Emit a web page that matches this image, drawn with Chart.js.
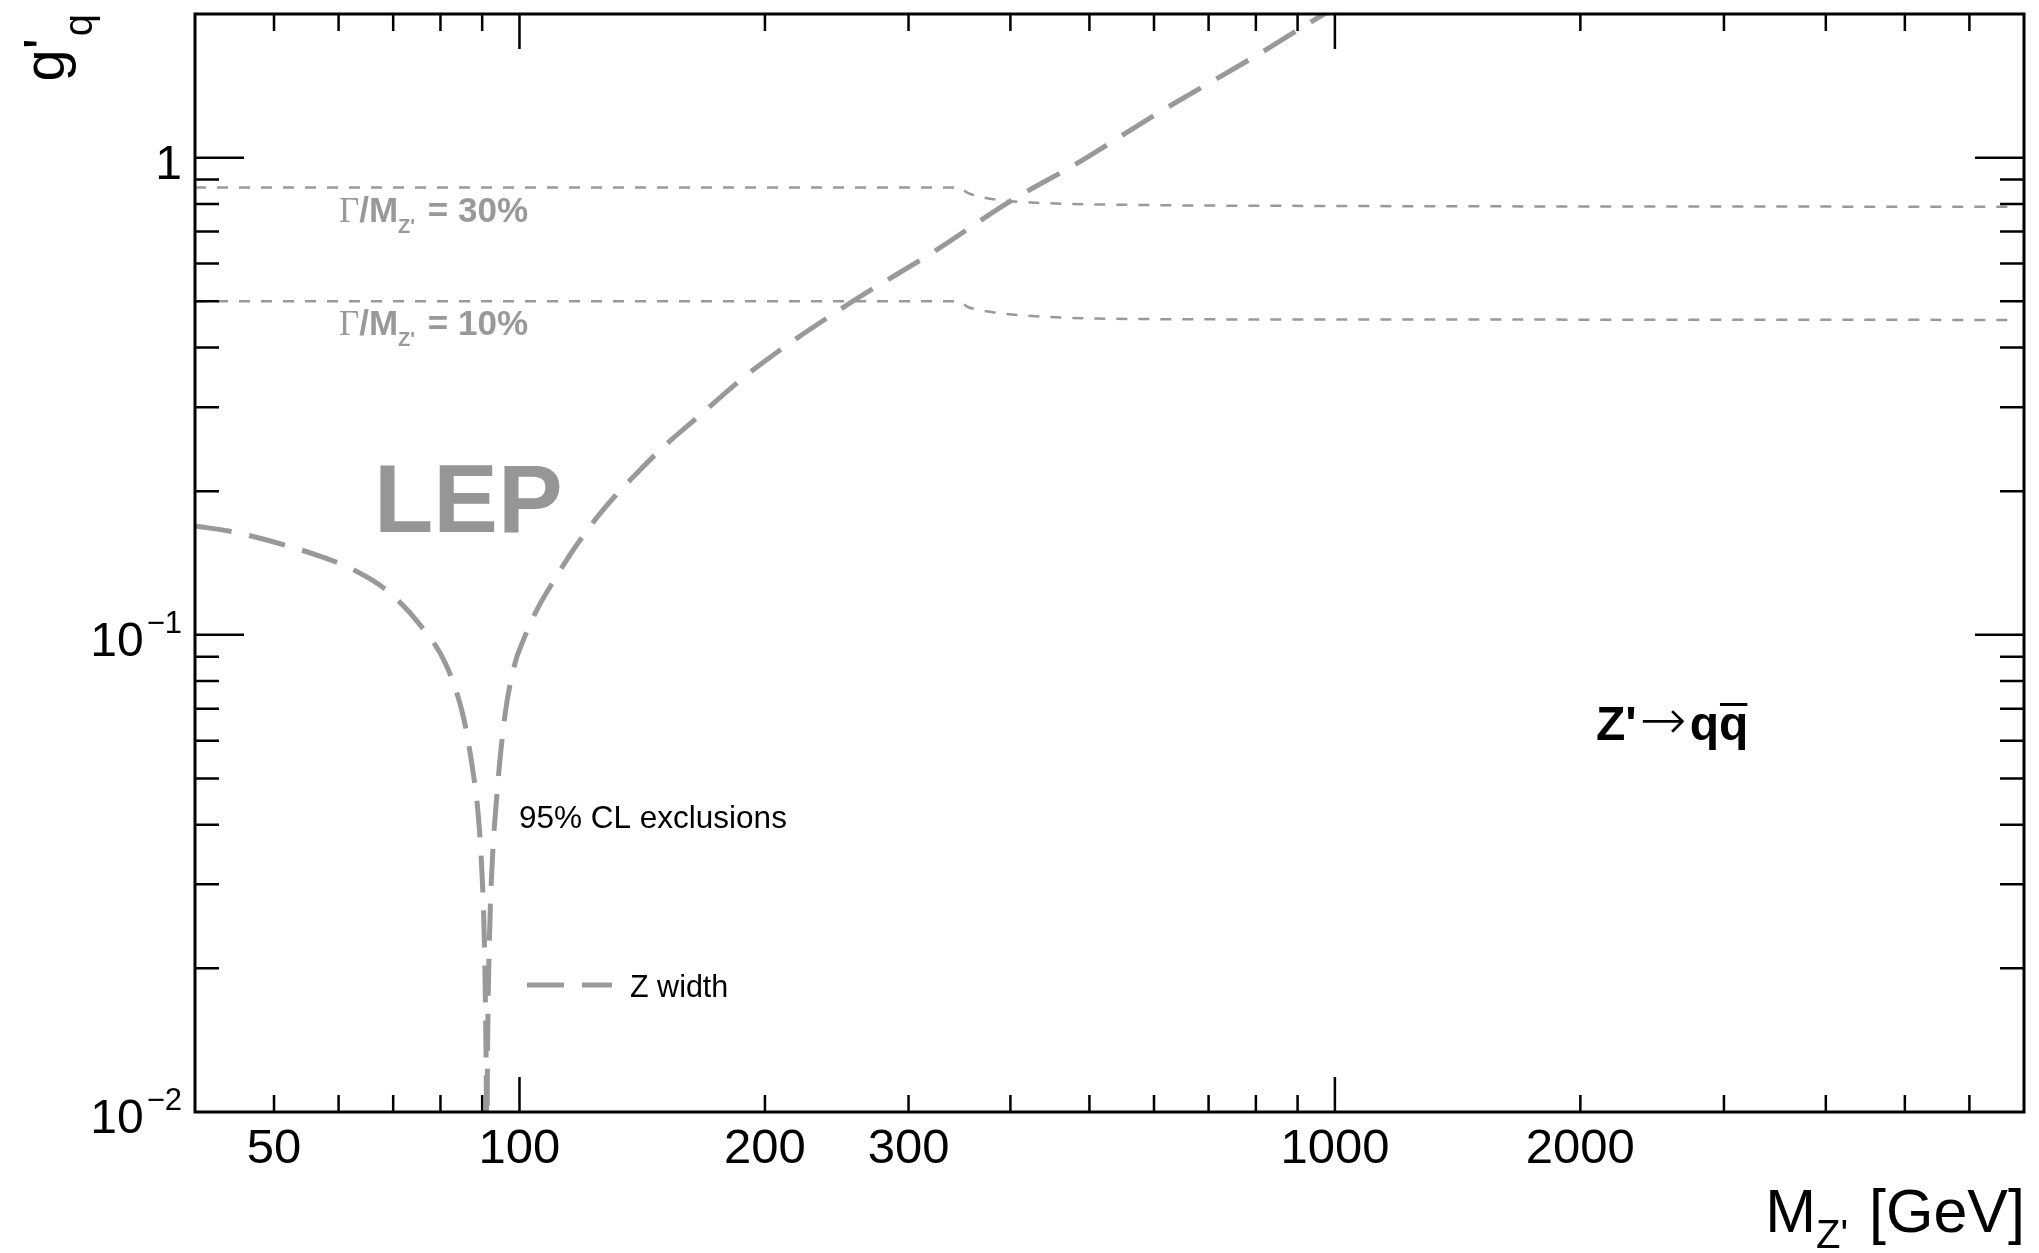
<!DOCTYPE html>
<html>
<head>
<meta charset="utf-8">
<script src="https://cdn.jsdelivr.net/npm/chart.js@4.4.0/dist/chart.umd.min.js"></script>
<style>
  html, body { margin: 0; padding: 0; background: #fff; }
  #wrap { width: 2039px; height: 1253px; }
</style>
</head>
<body>
<div id="wrap"><canvas id="zprime" width="2039" height="1253"></canvas></div>
<script>
// Z width exclusion (LEP), M_Z' in GeV vs g'_q
const zMass = [40, 44, 51, 57, 62.5, 68.7, 75.5, 81.4, 85.4, 87.5, 89.0, 90.0, 90.6, 91.0, 91.19,
               91.4, 91.8, 92.4, 93.8, 96.0, 98.7, 101.1, 105, 109, 113.2, 117, 124.3, 131, 138, 150, 163.5, 193,
               251.6, 324.5, 400, 479, 611, 792, 970, 1100];
const zCoupling = [0.169, 0.165, 0.155, 0.146, 0.137, 0.124, 0.105, 0.086, 0.067, 0.053, 0.042, 0.031, 0.022, 0.013, 0.0085,
                   0.014, 0.022, 0.031, 0.046, 0.068, 0.087, 0.0975, 0.1127, 0.126, 0.140, 0.1526, 0.1757, 0.1954, 0.2146, 0.2473, 0.281, 0.358,
                   0.490, 0.640, 0.811, 0.965, 1.249, 1.618, 2.00, 2.27];

// constant width lines
const widthMass = [40, 346, 354, 365, 388, 440, 566, 1000, 6700];
const width30 = [0.866, 0.866, 0.845, 0.830, 0.815, 0.803, 0.796, 0.792, 0.789];
const width10 = [0.500, 0.500, 0.487, 0.480, 0.472, 0.464, 0.459, 0.458, 0.457];

const xLabelValues = [50, 100, 200, 300, 1000, 2000];
const xMajorTicks = [100, 1000];
const xMinorTicks = [50, 60, 70, 80, 90, 200, 300, 400, 500, 600, 700, 800, 900, 2000, 3000, 4000, 5000, 6000];
const yLabelValues = [1, 0.1, 0.01];
const yLabelExps = ['', '\u22121', '\u22122'];
const yMajorTicks = [0.1, 1];
const yMinorTicks = [0.02, 0.03, 0.04, 0.05, 0.06, 0.07, 0.08, 0.09, 0.2, 0.3, 0.4, 0.5, 0.6, 0.7, 0.8, 0.9];

const GRAY = '#999999';
const FONT = '"Liberation Sans", Arial, sans-serif';

function pts(xs, ys){ return xs.map((x, i) => ({ x, y: ys[i] })); }

// draw a row of text pieces (for sub/superscripts), returns width
function drawParts(ctx, x, y, parts, align){
  ctx.textAlign = 'left';
  ctx.textBaseline = 'alphabetic';
  let total = 0;
  parts.forEach(p => { ctx.font = p.font; p.w = ctx.measureText(p.t).width + (p.gap || 0) + (p.pre || 0); total += p.w; });
  let cx = align === 'right' ? x - total : x;
  parts.forEach(p => {
    ctx.font = p.font;
    ctx.fillStyle = p.color || ctx.fillStyle;
    ctx.fillText(p.t, cx + (p.pre || 0), y + (p.dy || 0));
    if(p.over){
      ctx.fillRect(cx + (p.pre || 0) + 1, y - p.over, ctx.measureText(p.t).width - 2, 3);
    }
    cx += p.w;
  });
  return total;
}

const rootStyle = {
  id: 'rootStyle',
  afterDraw(chart){
    const { ctx, chartArea: a, scales: { x, y } } = chart;
    ctx.save();

    // ticks inside the frame
    ctx.strokeStyle = '#000';
    ctx.lineWidth = 2.5;
    ctx.beginPath();
    xMajorTicks.concat(xMinorTicks).forEach(v => {
      const len = xMajorTicks.includes(v) ? 35 : 17;
      const px = x.getPixelForValue(v);
      ctx.moveTo(px, a.bottom); ctx.lineTo(px, a.bottom - len);
      ctx.moveTo(px, a.top); ctx.lineTo(px, a.top + len);
    });
    yMajorTicks.concat(yMinorTicks).forEach(v => {
      const len = yMajorTicks.includes(v) ? 49 : 24;
      const py = y.getPixelForValue(v);
      ctx.moveTo(a.left, py); ctx.lineTo(a.left + len, py);
      ctx.moveTo(a.right, py); ctx.lineTo(a.right - len, py);
    });
    ctx.stroke();
    ctx.lineWidth = 3;
    ctx.strokeRect(a.left, a.top, a.right - a.left, a.bottom - a.top);

    // y tick labels 1, 10^-1, 10^-2
    ctx.fillStyle = '#000';
    yLabelValues.forEach((v, i) => {
      const py = y.getPixelForValue(v);
      const exp = yLabelExps[i];
      const parts = [{ t: exp ? '10' : '1', font: `48px ${FONT}`, gap: exp ? 3 : 0 }];
      if(exp) parts.push({ t: exp, font: `31px ${FONT}`, dy: -23 });
      drawParts(ctx, a.left - 13, py + 21, parts, 'right');
    });

    // axis titles
    drawParts(ctx, a.right + 1, 1232, [
      { t: 'M', font: `61px ${FONT}` },
      { t: "Z'", font: `40px ${FONT}`, dy: 16, gap: 4 },
      { t: ' [GeV]', font: `61px ${FONT}` }
    ], 'right');

    ctx.save();
    ctx.translate(64, a.top);
    ctx.rotate(-Math.PI / 2);
    drawParts(ctx, 0, 0, [
      { t: 'g', font: `58px ${FONT}` },
      { t: "'", font: `58px ${FONT}`, gap: 2 },
      { t: 'q', font: `40px ${FONT}`, dy: 28 }
    ], 'right');
    ctx.restore();

    // gray annotations
    ctx.fillStyle = GRAY;
    [['30%', 222], ['10%', 335]].forEach(([pct, base]) => {
      drawParts(ctx, 339, base, [
        { t: '\u0393', font: `35px "Liberation Serif", serif` },
        { t: '/M', font: `bold 35px ${FONT}` },
        { t: "Z'", font: `bold 20px ${FONT}`, dy: 11, gap: 3 },
        { t: ' = ' + pct, font: `bold 35px ${FONT}` }
      ]);
    });
    ctx.fillStyle = '#969696';
    ctx.font = `bold 97px ${FONT}`;
    ctx.textAlign = 'left';
    ctx.fillText('LEP', 374, 532);

    // black annotations
    ctx.fillStyle = '#000';
    ctx.font = `31.5px ${FONT}`;
    ctx.fillText('95% CL exclusions', 519, 828);

    drawParts(ctx, 1596, 740, [
      { t: "Z'", font: `bold 48px ${FONT}`, gap: 3 },
      { t: '\u2192', font: `200 56px "DejaVu Sans", sans-serif`, dy: -1, gap: 3 },
      { t: 'q', font: `bold 48px ${FONT}` },
      { t: 'q', font: `bold 48px ${FONT}`, over: 37 }
    ]);

    // legend
    const ds = chart.data.datasets[0];
    ctx.strokeStyle = ds.borderColor;
    ctx.lineWidth = ds.borderWidth;
    ctx.setLineDash(ds.borderDash);
    ctx.beginPath();
    ctx.moveTo(527, 985); ctx.lineTo(612, 985);
    ctx.stroke();
    ctx.setLineDash([]);
    ctx.fillStyle = '#000';
    ctx.font = `30.5px ${FONT}`;
    ctx.fillText(ds.label, 630, 997);

    ctx.restore();
  }
};

Chart.defaults.font.family = FONT;
Chart.defaults.color = '#000';

new Chart(document.getElementById('zprime'), {
  type: 'line',
  data: {
    datasets: [
      {
        label: 'Z width',
        data: pts(zMass, zCoupling),
        borderColor: GRAY,
        borderWidth: 5,
        borderDash: [37, 18],
        pointRadius: 0,
        cubicInterpolationMode: 'monotone',
        clip: 0
      },
      {
        label: '\u0393/M = 30%',
        data: pts(widthMass, width30),
        borderColor: GRAY,
        borderWidth: 2.5,
        borderDash: [11, 11],
        pointRadius: 0,
        cubicInterpolationMode: 'monotone',
        clip: 0
      },
      {
        label: '\u0393/M = 10%',
        data: pts(widthMass, width10),
        borderColor: GRAY,
        borderWidth: 2.5,
        borderDash: [11, 11],
        pointRadius: 0,
        cubicInterpolationMode: 'monotone',
        clip: 0
      }
    ]
  },
  options: {
    responsive: false,
    animation: false,
    layout: { padding: { top: 14, right: 15, left: 0, bottom: 0 } },
    plugins: { legend: { display: false }, tooltip: { enabled: false } },
    scales: {
      x: {
        type: 'logarithmic',
        min: 40,
        max: 7000,
        grid: { display: false, drawTicks: false },
        border: { display: false },
        afterBuildTicks: s => { s.ticks = xLabelValues.map(v => ({ value: v })); },
        afterFit: s => { s.height = 141; },
        ticks: {
          autoSkip: false,
          maxRotation: 0,
          padding: 8,
          font: { size: 49 },
          color: '#000',
          callback: v => String(v)
        }
      },
      y: {
        type: 'logarithmic',
        min: 0.01,
        max: 2,
        grid: { display: false, drawTicks: false },
        border: { display: false },
        afterBuildTicks: s => { s.ticks = yLabelValues.map(v => ({ value: v })); },
        afterFit: s => { s.width = 195; },
        ticks: { display: false }
      }
    }
  },
  plugins: [rootStyle]
});
</script>
</body>
</html>
